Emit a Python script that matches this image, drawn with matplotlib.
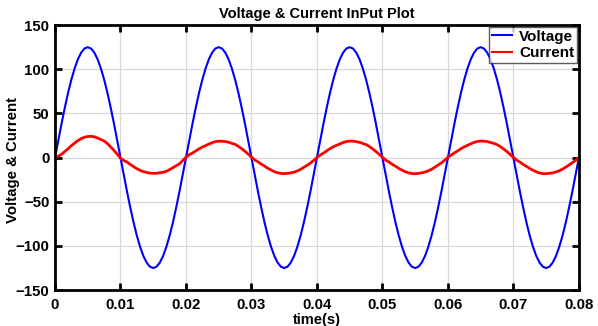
import numpy as np
import matplotlib.pyplot as plt

plt.rcParams['font.family'] = ['Liberation Sans', 'DejaVu Sans']
plt.rcParams['font.weight'] = 'bold'

# sample time (s), 0.5 ms steps
dt = 0.0005
n_samples = 161

# measured input voltage (V)
voltage = [
    0.0, 19.6, 38.6, 56.7, 73.5, 88.4, 101.1, 111.4, 118.9, 123.5,
    125.0, 123.5, 118.9, 111.4, 101.1, 88.4, 73.5, 56.7, 38.6, 19.6,
    0.0, -19.6, -38.6, -56.7, -73.5, -88.4, -101.1, -111.4, -118.9, -123.5,
    -125.0, -123.5, -118.9, -111.4, -101.1, -88.4, -73.5, -56.7, -38.6, -19.6,
    0.0, 19.6, 38.6, 56.7, 73.5, 88.4, 101.1, 111.4, 118.9, 123.5,
    125.0, 123.5, 118.9, 111.4, 101.1, 88.4, 73.5, 56.7, 38.6, 19.6,
    0.0, -19.6, -38.6, -56.7, -73.5, -88.4, -101.1, -111.4, -118.9, -123.5,
    -125.0, -123.5, -118.9, -111.4, -101.1, -88.4, -73.5, -56.7, -38.6, -19.6,
    0.0, 19.6, 38.6, 56.7, 73.5, 88.4, 101.1, 111.4, 118.9, 123.5,
    125.0, 123.5, 118.9, 111.4, 101.1, 88.4, 73.5, 56.7, 38.6, 19.6,
    0.0, -19.6, -38.6, -56.7, -73.5, -88.4, -101.1, -111.4, -118.9, -123.5,
    -125.0, -123.5, -118.9, -111.4, -101.1, -88.4, -73.5, -56.7, -38.6, -19.6,
    0.0, 19.6, 38.6, 56.7, 73.5, 88.4, 101.1, 111.4, 118.9, 123.5,
    125.0, 123.5, 118.9, 111.4, 101.1, 88.4, 73.5, 56.7, 38.6, 19.6,
    0.0, -19.6, -38.6, -56.7, -73.5, -88.4, -101.1, -111.4, -118.9, -123.5,
    -125.0, -123.5, -118.9, -111.4, -101.1, -88.4, -73.5, -56.7, -38.6, -19.6,
    0.0,
]

# measured input current (A)
current = [
    0.0, 1.6, 3.8, 6.9, 10.1, 13.6, 16.4, 19.3, 21.5, 23.1,
    23.9, 24.1, 23.6, 22.2, 20.6, 18.9, 15.9, 12.0, 8.2, 3.9,
    -0.6, -3.3, -5.0, -7.8, -10.2, -12.6, -14.4, -15.9, -16.8, -17.6,
    -17.8, -17.7, -17.2, -16.6, -15.4, -13.6, -11.4, -9.2, -7.0, -3.4,
    0.6, 3.3, 5.2, 7.6, 10.0, 12.0, 13.6, 15.4, 16.9, 18.1,
    18.6, 18.5, 18.2, 17.4, 16.2, 15.0, 12.8, 10.1, 7.2, 3.9,
    0.6, -2.6, -4.8, -7.4, -9.6, -12.1, -14.0, -15.9, -17.2, -17.9,
    -18.1, -17.8, -17.3, -16.4, -15.1, -13.3, -11.0, -8.7, -6.2, -3.2,
    0.2, 2.9, 5.1, 7.8, 10.2, 12.3, 13.9, 15.6, 17.1, 18.2,
    18.7, 18.6, 18.1, 17.3, 16.0, 14.8, 12.6, 9.9, 7.0, 3.7,
    0.4, -2.8, -5.0, -7.6, -9.8, -12.2, -14.2, -16.0, -17.3, -18.0,
    -18.2, -17.9, -17.2, -16.3, -15.0, -13.2, -10.9, -8.5, -6.0, -3.0,
    0.3, 3.0, 5.3, 7.7, 10.1, 12.2, 14.0, 15.7, 17.2, 18.3,
    18.8, 18.6, 18.2, 17.2, 16.1, 14.7, 12.5, 9.8, 6.9, 3.6,
    0.3, -2.9, -5.1, -7.7, -9.9, -12.3, -14.3, -16.1, -17.4, -18.1,
    -18.2, -17.8, -17.3, -16.2, -14.9, -13.1, -10.8, -8.4, -5.8, -3.1,
    -0.4,
]

xticks = [0, 0.01, 0.02, 0.03, 0.04, 0.05, 0.06, 0.07, 0.08]
xtick_labels = ['0', '0.01', '0.02', '0.03', '0.04', '0.05', '0.06', '0.07', '0.08']
yticks = [-150, -100, -50, 0, 50, 100, 150]

t = np.arange(n_samples) * dt

fig = plt.figure(figsize=(5.98, 3.26), dpi=100)
ax = fig.add_axes([0.092, 0.110, 0.876, 0.813])

ax.plot(t, voltage, color='#0000ff', lw=1.5, label='Voltage')
ax.plot(t, current, color='#ff0000', lw=2.0, label='Current')

ax.set_xlim(0, 0.08)
ax.set_ylim(-150, 150)
ax.set_xticks(xticks)
ax.set_xticklabels(xtick_labels)
ax.set_yticks(yticks)
ax.grid(True, color='#d9d9d9', lw=0.9)
ax.set_axisbelow(True)

for sp in ax.spines.values():
    sp.set_linewidth(2.0)
ax.tick_params(direction='in', length=5, width=2, top=True, right=True,
               labelsize=10.8)
ax.tick_params(axis='x', pad=6)
ax.tick_params(axis='y', pad=4)

ax.set_title('Voltage & Current InPut Plot', fontsize=10.5, fontweight='bold', pad=5)
ax.set_xlabel('time(s)', fontsize=10.5, fontweight='bold')
ax.xaxis.set_label_coords(0.5, -0.086)
ax.set_ylabel('Voltage & Current', fontsize=10.8, fontweight='bold')
ax.yaxis.set_label_coords(-0.066, 0.49)

leg = ax.legend(loc='upper right', fontsize=11, frameon=True, fancybox=False,
                handlelength=1.3, borderpad=0.2, labelspacing=0.15,
                handletextpad=0.45, borderaxespad=0.1)
leg.get_frame().set_edgecolor('#333333')
leg.get_frame().set_linewidth(1.0)
for line in leg.get_lines():
    line.set_linewidth(1.5)

fig.savefig('out.png', dpi=100)
